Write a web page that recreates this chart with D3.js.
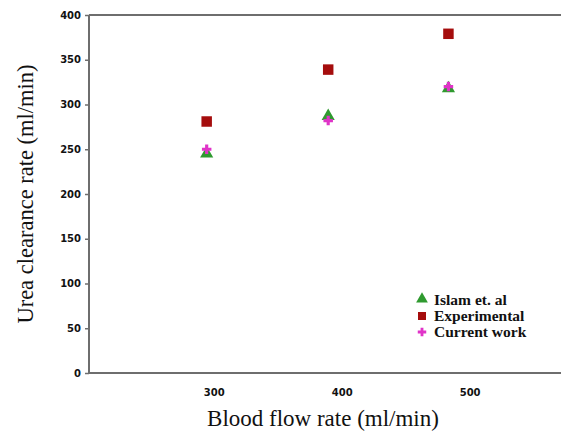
<!DOCTYPE html>
<html><head><meta charset="utf-8">
<script src="https://cdn.jsdelivr.net/npm/d3@7"></script>
<style>body{margin:0;background:#fff}svg{display:block}</style>
</head><body>
<svg id="c" width="561" height="433"></svg>
<script>
const flowRates = [296, 391, 485];
const islam = [245, 287, 318];
const experimental = [281, 339, 379];
const current = [250, 282, 320];
const xTicks = [300, 400, 500];
const yTicks = [0, 50, 100, 150, 200, 250, 300, 350, 400];
const seriesNames = ["Islam et. al", "Experimental", "Current work"];

const svg = d3.select("#c");
const x = d3.scaleLinear().domain([204, 573]).range([89, 561]);
const y = d3.scaleLinear().domain([0, 400]).range([373, 15]);
const axisColor = "#6e6e6e";

// y axis
const ya = svg.append("g").attr("transform", "translate(89,0)")
  .call(d3.axisLeft(y).tickValues(yTicks).tickSize(4).tickPadding(4));
ya.select(".domain").remove();
ya.selectAll("line").attr("stroke", axisColor).attr("stroke-width", 1.5);
ya.selectAll("text").attr("font-family", "DejaVu Sans").attr("font-weight", "bold")
  .attr("font-size", 10).attr("fill", "#111");

// x axis labels
const xa = svg.append("g").attr("transform", "translate(0,373)")
  .call(d3.axisBottom(x).tickValues(xTicks).tickSize(0).tickPadding(16));
xa.select(".domain").remove();
xa.selectAll("text").attr("font-family", "DejaVu Sans").attr("font-weight", "bold")
  .attr("font-size", 10).attr("fill", "#111").attr("dx", 2);

// frame lines
svg.append("line").attr("x1", x.range()[0]).attr("x2", x.range()[1]).attr("y1", y(0)).attr("y2", y(0))
  .attr("stroke", axisColor).attr("stroke-width", 2);
svg.append("line").attr("x1", x.range()[0]).attr("x2", x.range()[1]).attr("y1", y(400)).attr("y2", y(400))
  .attr("stroke", axisColor).attr("stroke-width", 2);
svg.append("line").attr("x1", x.range()[0]).attr("x2", x.range()[0]).attr("y1", y(0)).attr("y2", y(400))
  .attr("stroke", axisColor).attr("stroke-width", 2);

// titles
svg.append("text").attr("x", 323).attr("y", 426).attr("text-anchor", "middle")
  .attr("font-family", "Liberation Serif").attr("font-size", 23).attr("fill", "#111")
  .text("Blood flow rate (ml/min)");
svg.append("text").attr("transform", "translate(33,194) rotate(-90)").attr("text-anchor", "middle")
  .attr("font-family", "Liberation Serif").attr("font-size", 22.5).attr("fill", "#111")
  .text("Urea clearance rate (ml/min)");

const colors = ["#2f9a2f", "#a50d0d", "#e033c8"];
const symbols = [d3.symbolTriangle, d3.symbolSquare, d3.symbolCross];
const sizes = [75, 110, 50];
const data = [islam, experimental, current];

const series = [1, 0, 2];
series.forEach(i => {
  svg.append("g").selectAll("path").data(data[i]).join("path")
    .attr("transform", (d, j) => `translate(${x(flowRates[j])},${y(d)})`)
    .attr("d", d3.symbol().type(symbols[i]).size(sizes[i]))
    .attr("fill", colors[i]);
});

// legend
const lg = svg.append("g");
seriesNames.forEach((name, i) => {
  const yy = 300 + i * 16;
  lg.append("path").attr("transform", `translate(422,${yy - (i===0?1:0)})`)
    .attr("d", d3.symbol().type(symbols[i]).size(i === 1 ? 65 : (i===0?60:40)))
    .attr("fill", colors[i]);
  lg.append("text").attr("x", 434).attr("y", yy + 5)
    .attr("font-family", "Liberation Serif").attr("font-weight", "bold")
    .attr("font-size", 15.5).attr("fill", "#111").text(name);
});
</script>
</body></html>
